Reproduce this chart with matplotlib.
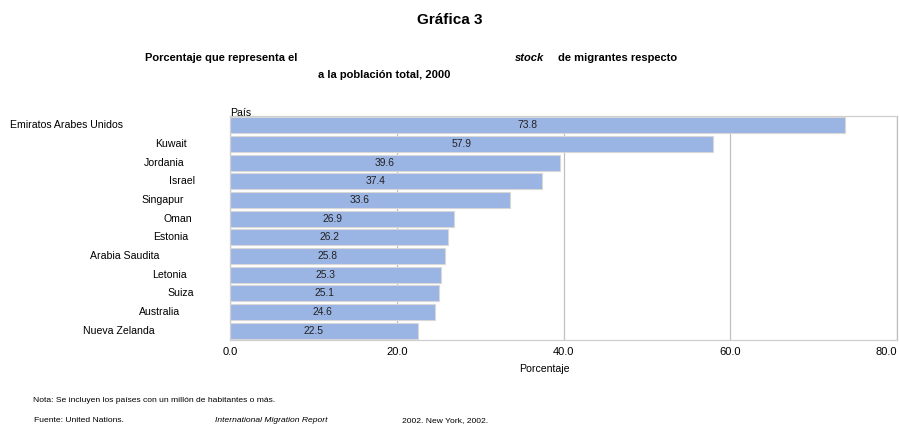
import matplotlib
matplotlib.use("Agg")
import matplotlib.pyplot as plt

plt.rcParams["font.family"] = ["Liberation Sans", "DejaVu Sans"]

paises = ["Emiratos Arabes Unidos", "Kuwait", "Jordania", "Israel", "Singapur", "Oman",
          "Estonia", "Arabia Saudita", "Letonia", "Suiza", "Australia", "Nueva Zelanda"]
porcentaje = [73.8, 57.9, 39.6, 37.4, 33.6, 26.9, 26.2, 25.8, 25.3, 25.1, 24.6, 22.5]
ticks_x = [0, 20, 40, 60, 80]

# horizontal placement of each country label (figure pixels, label anchor)
label_x = [10, 171, 164, 182, 163, 178, 171, 125, 169, 181, 160, 119]
label_ha = ["left"] + ["center"] * 11

W, H = 899, 425
fig = plt.figure(figsize=(W / 100, H / 100), dpi=100)
ax = fig.add_axes([230 / W, 1 - 340 / H, (897 - 230) / W, (340 - 116) / H])

y = list(range(len(paises)))
ax.barh(y, porcentaje, height=0.86, color="#9AB4E3", edgecolor="#d8d8d8", linewidth=0.8, zorder=2)
ax.set_ylim(len(paises) - 0.5, -0.5)
ax.set_xlim(0, 80)
ax.set_xticks(ticks_x)
ax.set_xticklabels([f"{t:.1f}" for t in ticks_x], fontsize=8)
ax.get_xticklabels()[-1].set_horizontalalignment("right")
ax.set_yticks([])
ax.tick_params(axis="x", length=0, pad=5)
ax.grid(axis="x", color="#c0c0c0", linewidth=0.9, zorder=0)
for s in ax.spines.values():
    s.set_color("#cfcfcf")
    s.set_linewidth(0.9)
ax.spines["right"].set_color("#c0c0c0")

for i, v in enumerate(porcentaje):
    ax.text(v / 2 - 1.2, i, f"{v:.1f}", ha="center", va="center", fontsize=7.4, color="#222222", zorder=3)

for i, name in enumerate(paises):
    ytop = 116 + (i + 0.5) * (340 - 116) / len(paises)
    fig.text(label_x[i] / W, 1 - ytop / H, name, ha=label_ha[i], va="center", fontsize=7.6)

fig.text(230 / W, 1 - 113 / H, "País", ha="left", va="center", fontsize=7.6)
fig.text(544 / W, 1 - 369 / H, "Porcentaje", ha="center", va="center", fontsize=7.6)

fig.text(450 / W, 1 - 20 / H, "Gráfica 3", ha="center", va="center", fontsize=11, fontweight="bold")
fig.text(145 / W, 1 - 58 / H, "Porcentaje que representa el", ha="left", va="center",
         fontsize=8, fontweight="bold")
fig.text(515 / W, 1 - 58 / H, "stock", ha="left", va="center", fontsize=8,
         fontweight="bold", fontstyle="italic")
fig.text(558 / W, 1 - 58 / H, "de migrantes respecto", ha="left", va="center",
         fontsize=8, fontweight="bold")
fig.text(318 / W, 1 - 75 / H, "a la población total, 2000", ha="left", va="center",
         fontsize=8, fontweight="bold")

fig.text(33 / W, 1 - 400 / H, "Nota: Se incluyen los países con un millón de habitantes o más.",
         ha="left", va="center", fontsize=6.1)
fig.text(34 / W, 1 - 421 / H, "Fuente: United Nations.", ha="left", va="center", fontsize=6.1)
fig.text(215 / W, 1 - 421 / H, "International Migration Report", ha="left", va="center",
         fontsize=6.1, fontstyle="italic")
fig.text(402 / W, 1 - 421 / H, "2002. New York, 2002.", ha="left", va="center", fontsize=6.1)

fig.savefig("out.png", dpi=100, facecolor="white")
